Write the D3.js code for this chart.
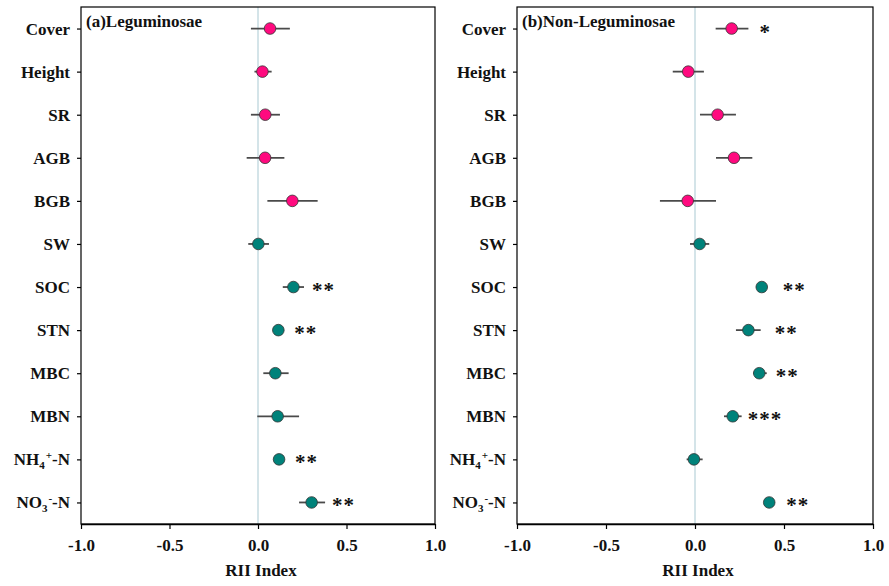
<!DOCTYPE html>
<html>
<head>
<meta charset="utf-8">
<script src="https://cdn.jsdelivr.net/npm/d3@7"></script>
<style>
	body { margin: 0; background: #fff; }
	svg text { font-family: 'Liberation Serif', 'DejaVu Serif', serif; font-weight: bold; fill: #111; }
</style>
</head>
<body>
<div id="chart"></div>
<script>
// variables (top to bottom)
const variables = ['Cover', 'Height', 'SR', 'AGB', 'BGB', 'SW', 'SOC', 'STN', 'MBC', 'MBN', 'NH4', 'NO3'];
// first 5 are plant traits (pink), rest soil (teal)
const groups = ['plant', 'plant', 'plant', 'plant', 'plant', 'soil', 'soil', 'soil', 'soil', 'soil', 'soil', 'soil'];
const xTicks = [-1.0, -0.5, 0.0, 0.5, 1.0];

// (a) Leguminosae
const legMean = [0.068, 0.025, 0.041, 0.040, 0.194, 0.002, 0.200, 0.115, 0.098, 0.111, 0.119, 0.303];
const legLow  = [-0.040, -0.020, -0.040, -0.064, 0.053, -0.055, 0.140, 0.090, 0.030, -0.004, 0.090, 0.232];
const legHigh = [0.180, 0.077, 0.124, 0.149, 0.337, 0.062, 0.260, 0.140, 0.173, 0.232, 0.140, 0.379];
const legSig  = ['', '', '', '', '', '', '**', '**', '', '', '**', '**'];

// (b) Non-Leguminosae
const nonMean = [0.206, -0.038, 0.127, 0.219, -0.041, 0.026, 0.375, 0.300, 0.361, 0.212, -0.006, 0.417];
const nonLow  = [0.116, -0.125, 0.028, 0.118, -0.197, -0.028, 0.350, 0.230, 0.328, 0.163, -0.047, 0.390];
const nonHigh = [0.300, 0.050, 0.230, 0.322, 0.118, 0.080, 0.400, 0.369, 0.403, 0.262, 0.043, 0.440];
const nonSig  = ['*', '', '', '', '', '', '**', '**', '**', '***', '', '**'];

const colors = { plant: '#ff0a7f', soil: '#00827a' };

const W = 889, H = 586;
const svg = d3.select('#chart').append('svg')
	.attr('width', W).attr('height', H)
	.attr('viewBox', `0 0 ${W} ${H}`);

const panels = [
	{ title: 'Leguminosae', tag: '(a)', left: 81, right: 435, mean: legMean, low: legLow, high: legHigh, sig: legSig, sigGap: [0, 0, 0, 0, 0, 0, 8, 10, 0, 0, 10, 7] },
	{ title: 'Non-Leguminosae', tag: '(b)', left: 517, right: 873, mean: nonMean, low: nonLow, high: nonHigh, sig: nonSig, sigGap: [11, 0, 0, 0, 0, 0, 15, 14, 9, 6, 0, 11] }
];
const plotTop = 7, plotBottom = 524;
const fontSize = 17;

const y = d3.scalePoint().domain(variables).range([plotTop, plotBottom]).padding(0.5);

function labelText(sel, d) {
	if (d === 'NH4' || d === 'NO3') {
		sel.append('tspan').text(d === 'NH4' ? 'NH' : 'NO');
		sel.append('tspan').text(d.slice(-1)).attr('font-size', '11px').attr('dy', 4);
		sel.append('tspan').text(d === 'NH4' ? '+' : '-').attr('font-size', '11px').attr('dy', -10).attr('dx', 1);
		sel.append('tspan').text('-N').attr('dy', 6);
	} else {
		sel.text(d);
	}
}

panels.forEach(p => {
	const x = d3.scaleLinear().domain([-1, 1]).range([p.left, p.right]);
	const g = svg.append('g');

	// zero line
	g.append('line')
		.attr('x1', x(0)).attr('x2', x(0))
		.attr('y1', plotTop).attr('y2', plotBottom)
		.attr('stroke', '#a9c9d2').attr('stroke-width', 1);

	// frame
	g.append('rect')
		.attr('x', p.left).attr('y', plotTop)
		.attr('width', p.right - p.left).attr('height', plotBottom - plotTop)
		.attr('fill', 'none').attr('stroke', '#000').attr('stroke-width', 1.2);

	// x axis
	const xAxis = g.append('g')
		.attr('transform', `translate(0,${plotBottom})`)
		.call(d3.axisBottom(x).tickValues(xTicks).tickSize(5).tickSizeOuter(0)
			.tickFormat(d => d < 0 ? '-' + d3.format('.1f')(-d) : d3.format('.1f')(d)));
	xAxis.attr('font-family', null).attr('font-size', null);
	xAxis.select('.domain').attr('stroke', '#000').attr('stroke-width', 1.5);
	xAxis.selectAll('.tick line').attr('stroke', '#000').attr('stroke-width', 1.2);
	xAxis.selectAll('.tick text')
		.attr('font-size', fontSize + 'px')
		.attr('y', 15);

	g.append('text')
		.attr('x', x(0) + 3).attr('y', 576)
		.attr('text-anchor', 'middle')
		.attr('font-size', fontSize + 'px')
		.text('RII Index');

	// y axis ticks + labels
	const yAxis = g.append('g')
		.attr('transform', `translate(${p.left},0)`)
		.call(d3.axisLeft(y).tickSize(4).tickSizeOuter(0).tickFormat(''));
	yAxis.select('.domain').remove();
	yAxis.selectAll('.tick line').attr('stroke', '#000').attr('stroke-width', 1.2);

	g.selectAll('.ylab')
		.data(variables)
		.enter()
		.append('text')
		.attr('class', 'ylab')
		.attr('x', p.left - 11)
		.attr('y', d => y(d) + 6)
		.attr('text-anchor', 'end')
		.attr('font-size', fontSize + 'px')
		.each(function (d) { labelText(d3.select(this), d); });

	// panel title
	g.append('text')
		.attr('x', p.left + 5).attr('y', 27)
		.attr('font-size', fontSize + 'px')
		.text(p.tag + p.title);

	// error bars
	g.selectAll('.err')
		.data(variables)
		.enter()
		.append('line')
		.attr('x1', (d, i) => x(p.low[i]))
		.attr('x2', (d, i) => x(p.high[i]))
		.attr('y1', d => y(d)).attr('y2', d => y(d))
		.attr('stroke', '#4a4a4a').attr('stroke-width', 1.8);

	// points
	g.selectAll('.pt')
		.data(variables)
		.enter()
		.append('circle')
		.attr('cx', (d, i) => x(p.mean[i]))
		.attr('cy', d => y(d))
		.attr('r', 5.8)
		.attr('fill', (d, i) => colors[groups[i]])
		.attr('stroke', '#333').attr('stroke-width', 0.8);

	// significance stars
	g.selectAll('.sig')
		.data(variables)
		.enter()
		.append('text')
		.attr('x', (d, i) => Math.max(x(p.high[i]), x(p.mean[i]) + 6) + p.sigGap[i])
		.attr('y', d => y(d) + 10)
		.attr('font-size', '21px')
		.attr('letter-spacing', '1px')
		.text((d, i) => p.sig[i]);
});
</script>
</body>
</html>
